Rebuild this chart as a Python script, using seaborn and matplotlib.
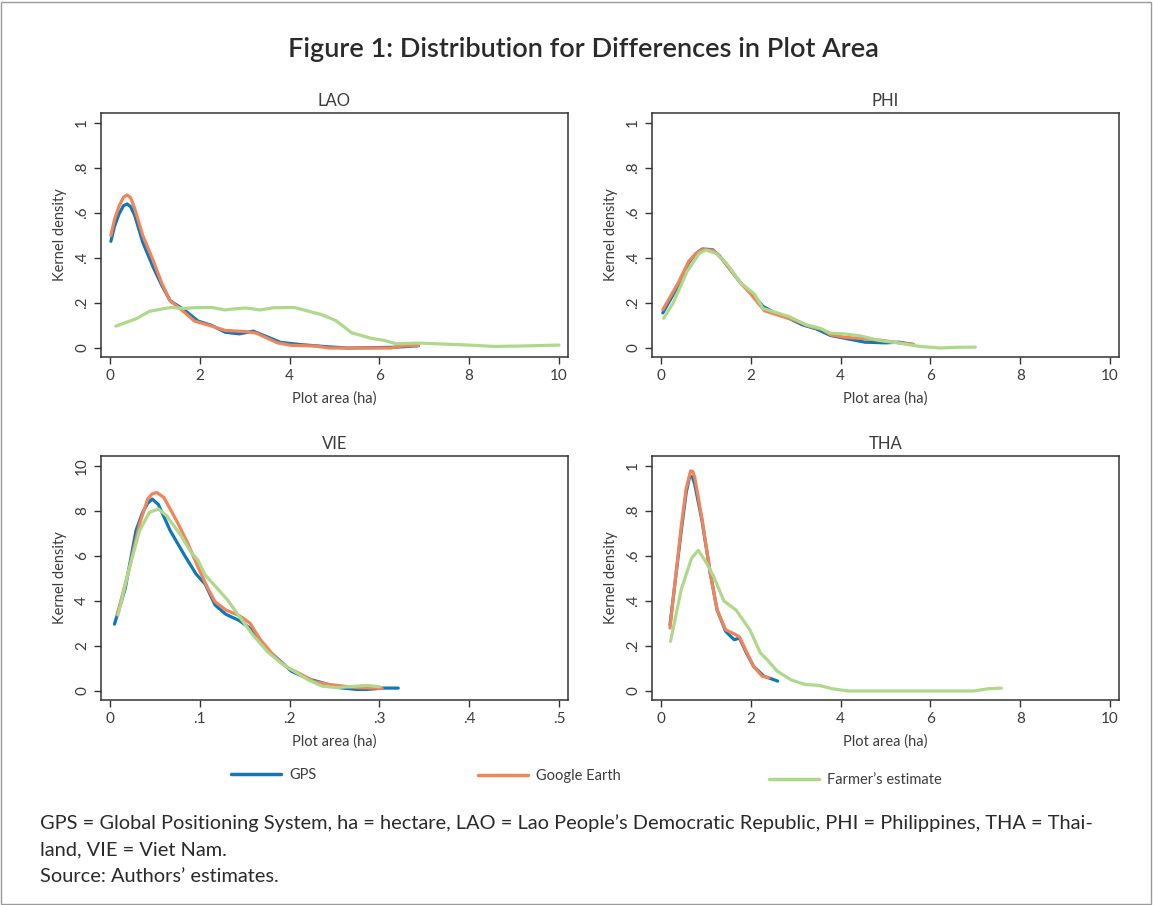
import pandas as pd
import numpy as np
import matplotlib.pyplot as plt
import matplotlib.ticker as mticker
from matplotlib.patches import Rectangle
from matplotlib.lines import Line2D
import seaborn as sns

# Curves (x = plot area in ha, y = kernel density)
lao_gps = [(0.02, 0.474), (0.1, 0.54), (0.2, 0.595), (0.3, 0.632), (0.38, 0.64), (0.46, 0.628),
           (0.55, 0.59), (0.73, 0.47), (0.96, 0.36), (1.15, 0.28), (1.34, 0.21), (1.65, 0.17),
           (1.96, 0.12), (2.27, 0.10), (2.57, 0.07), (2.88, 0.063), (3.19, 0.075), (3.5, 0.05),
           (3.8, 0.025), (4.26, 0.015), (4.88, 0.005), (5.3, 0.0), (6.3, 0.003), (6.87, 0.01)]
lao_ge = [(0.02, 0.50), (0.1, 0.57), (0.2, 0.63), (0.3, 0.67), (0.38, 0.68), (0.46, 0.668),
          (0.55, 0.62), (0.73, 0.50), (0.96, 0.39), (1.15, 0.29), (1.34, 0.21), (1.65, 0.16),
          (1.88, 0.12), (2.27, 0.097), (2.57, 0.078), (3.03, 0.073), (3.26, 0.066), (3.73, 0.023),
          (4.03, 0.012), (4.56, 0.009), (4.88, 0.0), (6.26, 0.0), (6.5, 0.009), (6.87, 0.012)]
lao_farmer = [(0.13, 0.097), (0.58, 0.13), (0.88, 0.163), (1.34, 0.18), (1.65, 0.176),
              (1.96, 0.18), (2.27, 0.18), (2.57, 0.169), (2.73, 0.173), (3.03, 0.178),
              (3.34, 0.169), (3.65, 0.179), (4.11, 0.18), (4.49, 0.16), (4.72, 0.148),
              (5.03, 0.122), (5.38, 0.068), (5.8, 0.044), (6.1, 0.034), (6.37, 0.019),
              (6.87, 0.022), (7.64, 0.016), (8.1, 0.012), (8.56, 0.007), (9.18, 0.009), (10.0, 0.013)]

phi_gps = [(0.04, 0.156), (0.38, 0.276), (0.62, 0.38), (0.78, 0.42), (0.92, 0.44), (1.15, 0.437),
           (1.3, 0.41), (1.46, 0.37), (1.77, 0.29), (2.08, 0.23), (2.27, 0.185), (2.54, 0.156),
           (2.85, 0.132), (3.15, 0.103), (3.46, 0.085), (3.77, 0.056), (4.23, 0.038), (4.54, 0.026),
           (5.0, 0.023), (5.3, 0.026), (5.62, 0.016)]
phi_ge = [(0.04, 0.17), (0.38, 0.288), (0.62, 0.386), (0.78, 0.42), (0.92, 0.437), (1.15, 0.435),
          (1.3, 0.41), (1.46, 0.37), (1.77, 0.29), (2.0, 0.24), (2.3, 0.166), (2.69, 0.141),
          (3.0, 0.122), (3.3, 0.097), (3.6, 0.082), (3.77, 0.059), (4.08, 0.048), (4.54, 0.041),
          (4.92, 0.034), (5.3, 0.023), (5.62, 0.016)]
phi_farmer = [(0.06, 0.132), (0.27, 0.2), (0.58, 0.34), (0.85, 0.42), (1.0, 0.435), (1.23, 0.42),
              (1.46, 0.376), (1.77, 0.29), (2.08, 0.24), (2.27, 0.176), (2.54, 0.159), (2.85, 0.14),
              (3.23, 0.103), (3.54, 0.088), (3.77, 0.066), (4.08, 0.063), (4.46, 0.053),
              (4.85, 0.034), (5.3, 0.022), (5.77, 0.007), (6.23, 0.0), (6.54, 0.003), (7.0, 0.004)]

vie_gps = [(0.005, 2.97), (0.017, 4.56), (0.029, 7.13), (0.036, 7.9), (0.042, 8.35), (0.047, 8.53),
           (0.054, 8.28), (0.067, 7.13), (0.083, 6.03), (0.096, 5.19), (0.106, 4.75), (0.117, 3.82),
           (0.129, 3.41), (0.144, 3.13), (0.156, 2.79), (0.171, 1.99), (0.19, 1.32), (0.202, 0.88),
           (0.221, 0.54), (0.236, 0.37), (0.255, 0.15), (0.275, 0.07), (0.286, 0.07), (0.305, 0.13),
           (0.321, 0.13)]
vie_ge = [(0.008, 3.38), (0.021, 5.37), (0.033, 7.43), (0.042, 8.53), (0.047, 8.76), (0.052, 8.82),
          (0.06, 8.6), (0.075, 7.5), (0.086, 6.62), (0.098, 5.51), (0.109, 4.56), (0.117, 3.97),
          (0.129, 3.6), (0.144, 3.35), (0.156, 3.01), (0.167, 2.31), (0.183, 1.54), (0.198, 1.03),
          (0.213, 0.74), (0.228, 0.41), (0.244, 0.29), (0.259, 0.22), (0.275, 0.15), (0.303, 0.12)]
vie_farmer = [(0.009, 3.38), (0.021, 5.37), (0.033, 7.13), (0.044, 7.94), (0.054, 8.09),
              (0.063, 7.79), (0.079, 6.91), (0.09, 6.18), (0.098, 5.81), (0.106, 5.15),
              (0.121, 4.49), (0.131, 4.04), (0.144, 3.31), (0.159, 2.5), (0.175, 1.76),
              (0.19, 1.25), (0.205, 0.88), (0.221, 0.49), (0.236, 0.22), (0.252, 0.15),
              (0.267, 0.19), (0.286, 0.25), (0.3, 0.19)]

tha_gps = [(0.2, 0.294), (0.45, 0.71), (0.56, 0.88), (0.64, 0.956), (0.7, 0.95), (0.75, 0.92),
           (0.91, 0.76), (1.1, 0.52), (1.25, 0.36), (1.44, 0.265), (1.63, 0.228), (1.75, 0.235),
           (1.9, 0.17), (2.06, 0.11), (2.29, 0.066), (2.6, 0.044)]
tha_ge = [(0.2, 0.28), (0.45, 0.73), (0.56, 0.9), (0.66, 0.978), (0.71, 0.975), (0.75, 0.95),
          (0.91, 0.77), (1.1, 0.52), (1.25, 0.36), (1.44, 0.272), (1.63, 0.254), (1.75, 0.24),
          (1.9, 0.176), (2.06, 0.11), (2.25, 0.066), (2.4, 0.059)]
tha_farmer = [(0.21, 0.22), (0.45, 0.45), (0.68, 0.59), (0.83, 0.625), (0.98, 0.58), (1.17, 0.51),
              (1.4, 0.4), (1.67, 0.36), (1.98, 0.272), (2.21, 0.17), (2.36, 0.14), (2.59, 0.088),
              (2.9, 0.049), (3.21, 0.029), (3.52, 0.025), (3.82, 0.01), (4.17, 0.0), (6.97, 0.0),
              (7.28, 0.01), (7.58, 0.013)]

series_names = ["GPS", "Google Earth", "Farmer\u2019s estimate"]
series_colors = ["#0f78b8", "#f2845a", "#aed88a"]

countries = ["LAO", "PHI", "VIE", "THA"]
curves = {
    "LAO": [lao_gps, lao_ge, lao_farmer],
    "PHI": [phi_gps, phi_ge, phi_farmer],
    "VIE": [vie_gps, vie_ge, vie_farmer],
    "THA": [tha_gps, tha_ge, tha_farmer],
}

rows = []
for c in countries:
    for name, pts in zip(series_names, curves[c]):
        for i, (x, y) in enumerate(pts):
            rows.append({"country": c, "series": name, "order": i, "x": x, "y": y})
df = pd.DataFrame(rows)

sns.set_theme(style="ticks")
plt.rcParams["font.family"] = ["Lato", "DejaVu Sans"]
text_col = "#3c3c3c"

fig = plt.figure(figsize=(11.53, 9.05), dpi=100)

# axes positions in figure fractions
positions = {
    "LAO": [0.0876, 0.6055, 0.405, 0.2696],
    "PHI": [0.5655, 0.6055, 0.405, 0.2696],
    "VIE": [0.0876, 0.2265, 0.405, 0.2696],
    "THA": [0.5655, 0.2265, 0.405, 0.2696],
}


def stata_fmt(v, pos):
    s = f"{v:g}"
    if s.startswith("0."):
        s = s[1:]
    return s


for c in countries:
    ax = fig.add_axes(positions[c])
    sub = df[df["country"] == c]
    sns.lineplot(data=sub, x="x", y="y", hue="series", hue_order=series_names,
                 palette=series_colors, units="series", estimator=None, sort=False,
                 linewidth=2.3, legend=False, ax=ax)
    if c == "VIE":
        ax.set_xlim(-0.01, 0.51)
        ax.set_xticks([0, 0.1, 0.2, 0.3, 0.4, 0.5])
        ax.set_ylim(-0.4, 10.44)
        ax.set_yticks([0, 2, 4, 6, 8, 10])
    else:
        ax.set_xlim(-0.2, 10.2)
        ax.set_xticks([0, 2, 4, 6, 8, 10])
        ax.set_ylim(-0.04, 1.044)
        ax.set_yticks([0, 0.2, 0.4, 0.6, 0.8, 1.0])
    ax.xaxis.set_major_formatter(mticker.FuncFormatter(stata_fmt))
    ax.yaxis.set_major_formatter(mticker.FuncFormatter(stata_fmt))
    ax.tick_params(axis="both", direction="out", length=5, width=1, colors="#333333",
                   labelsize=11, labelcolor=text_col)
    plt.setp(ax.get_yticklabels(), rotation=90, va="center")
    ax.set_xlabel("Plot area (ha)", fontsize=10.5, color=text_col, labelpad=6)
    ax.set_ylabel("Kernel density", fontsize=10.5, color=text_col, labelpad=6)
    ax.set_title(c, fontsize=12, color=text_col, pad=5)
    for sp in ax.spines.values():
        sp.set_visible(True)
        sp.set_color("#333333")
        sp.set_linewidth(1.1)

# legend entries sit at uneven spots in the reference, so one small legend each
legend_spots = [(231, 775), (478, 776), (769, 780)]
for name, col, (lx, ly) in zip(series_names, series_colors, legend_spots):
    h = Line2D([0], [0], color=col, lw=2.5)
    fig.legend([h], [name], loc="center left", bbox_to_anchor=(lx / 1153, 1 - ly / 905),
               frameon=False, fontsize=10.5, handlelength=3.4, handletextpad=0.6,
               borderpad=0, borderaxespad=0, labelcolor=text_col)

fig.text(0.506, 1 - 50 / 905, "Figure 1: Distribution for Differences in Plot Area",
         ha="center", va="center", fontsize=19.5, fontweight="semibold", color="#2a2a2a")

footnote = ("GPS = Global Positioning System, ha = hectare, LAO = Lao People\u2019s Democratic Republic, "
            "PHI = Philippines, THA = Thai-\nland, VIE = Viet Nam.\nSource: Authors\u2019 estimates.")
fig.text(40 / 1153, 1 - 814 / 905, footnote, ha="left", va="top", fontsize=14.4,
         color="#2a2a2a", linespacing=1.68)

fig.patches.append(Rectangle((0.001, 0.001), 0.997, 0.997, transform=fig.transFigure,
                             fill=False, edgecolor="#9a9a9a", linewidth=1))

fig.savefig("out.png", dpi=100)
